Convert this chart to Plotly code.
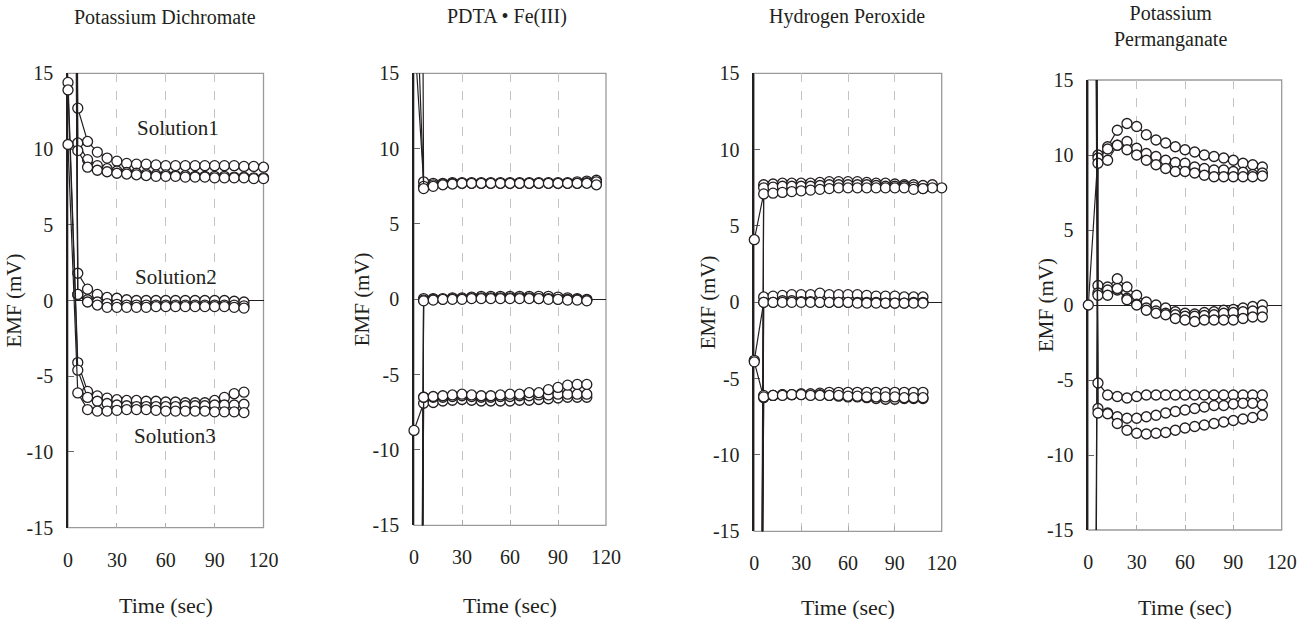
import plotly.graph_objects as go

# sampling times (sec)
TIME = [0, 6, 12, 18, 24, 30, 36, 42, 48, 54, 60, 66, 72, 78, 84, 90, 96, 102, 108, 114, 120]

titles = ["Potassium Dichromate", "PDTA • Fe(III)", "Hydrogen Peroxide", "Potassium<br>Permanganate"]
solution_labels = ["Solution1", "Solution2", "Solution3"]

# EMF readings (mV); first value is the t=0 reading (some are far off scale)
dichromate = [
    [100, 12.7, 10.5, 9.8, 9.4, 9.2, 9.05, 9.0, 9.0, 8.95, 8.9, 8.9, 8.9, 8.9, 8.9, 8.9, 8.9, 8.9, 8.85, 8.85, 8.8],
    [120, 10.4, 9.3, 8.9, 8.7, 8.55, 8.45, 8.4, 8.35, 8.3, 8.3, 8.25, 8.25, 8.2, 8.2, 8.2, 8.2, 8.15, 8.15, 8.1, 8.1],
    [90, 9.9, 8.8, 8.6, 8.5, 8.4, 8.35, 8.3, 8.25, 8.2, 8.2, 8.2, 8.15, 8.15, 8.15, 8.1, 8.1, 8.1, 8.1, 8.05, 8.05],
    [110, 1.8, 0.75, 0.4, 0.2, 0.15, 0.05, 0.0, 0.0, 0.0, 0.0, 0.0, 0.0, 0.0, 0.0, 0.0, 0.0, -0.05, -0.1],
    [95, 0.4, 0.05, -0.1, -0.2, -0.25, -0.3, -0.3, -0.3, -0.3, -0.3, -0.3, -0.3, -0.3, -0.3, -0.3, -0.3, -0.3, -0.35],
    [130, 0.4, -0.1, -0.3, -0.45, -0.45, -0.45, -0.45, -0.45, -0.4, -0.4, -0.4, -0.4, -0.4, -0.4, -0.4, -0.4, -0.45, -0.5],
    [14.4, -4.1, -6.0, -6.3, -6.45, -6.55, -6.6, -6.6, -6.65, -6.65, -6.7, -6.7, -6.75, -6.75, -6.75, -6.6, -6.4, -6.15, -6.05],
    [13.9, -4.6, -6.4, -6.65, -6.8, -6.9, -6.95, -7.0, -7.0, -7.0, -7.0, -7.0, -6.95, -6.95, -6.95, -6.9, -6.9, -6.9, -6.85],
    [10.3, -6.1, -7.2, -7.3, -7.3, -7.25, -7.2, -7.2, -7.2, -7.25, -7.3, -7.3, -7.3, -7.3, -7.3, -7.35, -7.35, -7.35, -7.4],
]

pdta = [
    [18, 7.8, 7.7, 7.7, 7.75, 7.75, 7.75, 7.75, 7.75, 7.75, 7.75, 7.75, 7.75, 7.75, 7.75, 7.75, 7.75, 7.8, 7.85, 7.9],
    [25, 7.5, 7.6, 7.65, 7.7, 7.7, 7.7, 7.7, 7.7, 7.7, 7.7, 7.7, 7.7, 7.7, 7.7, 7.7, 7.7, 7.7, 7.75, 7.8],
    [150, 7.35, 7.5, 7.6, 7.65, 7.7, 7.7, 7.7, 7.7, 7.7, 7.7, 7.7, 7.7, 7.7, 7.7, 7.7, 7.7, 7.7, 7.7, 7.6],
    [-110, 0.05, 0.05, 0.05, 0.1, 0.1, 0.15, 0.2, 0.2, 0.2, 0.2, 0.2, 0.2, 0.2, 0.2, 0.15, 0.1, 0.05, 0.0],
    [-130, -0.05, 0.0, 0.0, 0.05, 0.05, 0.1, 0.1, 0.1, 0.1, 0.1, 0.1, 0.1, 0.05, 0.05, 0.0, 0.0, 0.0, -0.05],
    [-150, -0.1, -0.05, 0.0, 0.0, 0.0, 0.05, 0.05, 0.05, 0.05, 0.05, 0.05, 0.05, 0.05, 0.0, 0.0, -0.05, -0.05, -0.1],
    [-8.7, -6.9, -6.85, -6.75, -6.7, -6.65, -6.7, -6.75, -6.75, -6.75, -6.75, -6.7, -6.7, -6.65, -6.6, -6.55, -6.5, -6.5, -6.5],
    [-120, -6.5, -6.5, -6.5, -6.45, -6.4, -6.45, -6.5, -6.5, -6.45, -6.45, -6.4, -6.4, -6.35, -6.35, -6.3, -6.3, -6.3, -6.3],
    [-140, -6.5, -6.45, -6.4, -6.35, -6.3, -6.35, -6.4, -6.4, -6.35, -6.3, -6.3, -6.2, -6.2, -6.0, -5.85, -5.7, -5.65, -5.65],
]

peroxide = [
    [-150, 7.7, 7.75, 7.8, 7.8, 7.8, 7.8, 7.85, 7.9, 7.9, 7.9, 7.9, 7.85, 7.8, 7.8, 7.75, 7.7, 7.7, 7.65, 7.7, 7.5],
    [-120, 7.5, 7.55, 7.6, 7.6, 7.6, 7.6, 7.65, 7.7, 7.7, 7.7, 7.7, 7.7, 7.65, 7.6, 7.6, 7.6, 7.55, 7.45, 7.5],
    [4.1, 7.1, 7.15, 7.2, 7.25, 7.3, 7.35, 7.4, 7.45, 7.5, 7.5, 7.5, 7.5, 7.5, 7.5, 7.5, 7.5, 7.4, 7.45],
    [-100, 0.35, 0.4, 0.45, 0.5, 0.5, 0.5, 0.6, 0.5, 0.5, 0.5, 0.5, 0.45, 0.4, 0.4, 0.4, 0.35, 0.35, 0.35],
    [-3.8, 0.0, 0.0, 0.1, 0.1, 0.05, 0.05, 0.0, 0.0, 0.0, 0.0, 0.0, 0.0, 0.0, -0.05, -0.05, -0.05, 0.0, 0.0],
    [-130, 0.0, 0.0, 0.0, 0.0, 0.0, 0.0, 0.0, 0.0, 0.0, 0.0, -0.05, -0.05, -0.05, -0.05, -0.05, -0.05, -0.05, -0.05],
    [-3.9, -6.25, -6.1, -6.05, -6.05, -6.0, -6.0, -5.95, -5.9, -5.9, -5.9, -5.9, -5.9, -5.9, -5.9, -5.9, -5.9, -5.9, -5.9],
    [-90, -6.1, -6.1, -6.05, -6.05, -6.0, -6.0, -6.05, -6.1, -6.15, -6.2, -6.2, -6.25, -6.3, -6.35, -6.35, -6.3, -6.3, -6.3],
    [-110, -6.2, -6.1, -6.1, -6.05, -6.05, -6.1, -6.1, -6.1, -6.1, -6.15, -6.15, -6.2, -6.2, -6.2, -6.2, -6.25, -6.25, -6.25],
]

permanganate = [
    [0.0, 10.0, 10.55, 11.65, 12.1, 11.9, 11.35, 11.0, 10.8, 10.55, 10.35, 10.2, 10.0, 9.9, 9.8, 9.65, 9.45, 9.35, 9.2],
    [-120, 9.8, 10.4, 10.65, 10.9, 10.45, 10.1, 9.9, 9.65, 9.5, 9.45, 9.2, 9.1, 9.0, 9.0, 8.9, 8.85, 8.7, 8.8],
    [-140, 9.45, 9.65, 10.65, 10.35, 10.0, 9.65, 9.35, 9.1, 8.9, 8.9, 8.8, 8.65, 8.55, 8.55, 8.55, 8.55, 8.55, 8.6],
    [110, 1.3, 1.2, 1.75, 1.2, 0.65, 0.2, 0.0, -0.2, -0.45, -0.55, -0.6, -0.5, -0.45, -0.35, -0.3, -0.2, -0.1, 0.0],
    [130, 0.8, 1.0, 1.0, 0.45, 0.05, -0.2, -0.4, -0.55, -0.65, -0.75, -0.75, -0.7, -0.65, -0.55, -0.5, -0.45, -0.4, -0.4],
    [120, 0.65, 0.65, 1.1, 0.35, 0.0, -0.35, -0.55, -0.65, -0.9, -1.0, -1.1, -1.0, -1.0, -1.0, -1.0, -0.9, -0.8, -0.8],
    [100, -5.2, -6.0, -6.1, -6.2, -6.1, -6.0, -6.0, -6.0, -6.0, -6.0, -6.0, -6.0, -6.0, -6.0, -6.0, -6.0, -6.0, -6.0],
    [140, -6.9, -7.2, -7.45, -7.55, -7.55, -7.45, -7.35, -7.2, -7.1, -7.0, -6.9, -6.8, -6.7, -6.7, -6.6, -6.55, -6.55, -6.65],
    [150, -7.2, -7.25, -7.9, -8.35, -8.55, -8.6, -8.55, -8.5, -8.35, -8.2, -8.1, -8.0, -7.9, -7.8, -7.7, -7.6, -7.5, -7.35],
]

y_ticks = [-15, -10, -5, 0, 5, 10, 15]
y_tick_text = ["-15", "-10", "-5", "0", "5", "10", "15"]
x_ticks = [0, 30, 60, 90, 120]

W, H = 1305, 619
FONT = "Liberation Serif"
INK = "#231f20"

# plot boxes in pixels: left, right, top, bottom
boxes = [(68, 263.5, 73.3, 527.7), (414, 606, 73.3, 525.3),
         (754.3, 941.7, 73.3, 531.3), (1088.3, 1281.7, 80, 530)]
title_pos = [(165, 17), (507, 17), (847, 17), (1170, 27)]
ytitle_x = [13, 362, 708, 1046]
xtitle_pos = [(166, 605), (510, 605), (848, 607), (1185, 607)]
solution_pos = [(178, 128), (176, 277), (175, 436)]

fig = go.Figure()
all_data = [dichromate, pdta, peroxide, permanganate]

for i, data in enumerate(all_data):
    n = i + 1
    xa = "x" if n == 1 else f"x{n}"
    ya = "y" if n == 1 else f"y{n}"
    for vals in data:
        fig.add_trace(go.Scatter(
            x=TIME[:len(vals)], y=vals, xaxis=xa, yaxis=ya,
            mode="lines+markers", cliponaxis=False,
            line=dict(color=INK, width=1.2),
            marker=dict(symbol="circle", size=10, color="white",
                        line=dict(color=INK, width=1.3)),
            showlegend=False, hoverinfo="skip"))

    l, r, t, b = boxes[i]
    xkey = "xaxis" if n == 1 else f"xaxis{n}"
    ykey = "yaxis" if n == 1 else f"yaxis{n}"
    fig.update_layout(**{
        xkey: dict(domain=[l / W, r / W], anchor=ya, range=[0, 120], automargin=False,
                   tickvals=x_ticks, showgrid=True, gridcolor="#c4c4c4",
                   griddash="dash", gridwidth=1, zeroline=False, showline=False,
                   ticks="inside", ticklen=5, tickcolor="#aaaaaa",
                   ticklabelstandoff=18, fixedrange=True,
                   tickfont=dict(family=FONT, size=20, color=INK)),
        ykey: dict(domain=[1 - b / H, 1 - t / H], anchor=xa, range=[-15, 15], automargin=False,
                   tickvals=y_ticks, ticktext=y_tick_text, showgrid=False,
                   zeroline=True, zerolinecolor=INK, zerolinewidth=1.2,
                   showline=True, linecolor=INK, linewidth=1.5,
                   ticks="inside", ticklen=6, tickcolor="#666666",
                   ticklabelstandoff=9, layer="below traces", fixedrange=True,
                   tickfont=dict(family=FONT, size=20, color=INK)),
    })
    # grey frame around the plot area
    fig.add_shape(type="rect", xref=f"{xa} domain", yref=f"{ya} domain",
                  x0=0, x1=1, y0=0, y1=1, layer="below",
                  line=dict(color="#9a9a9a", width=1.3))

    tx, ty = title_pos[i]
    fig.add_annotation(text=titles[i], x=tx / W, y=1 - ty / H, xref="paper", yref="paper",
                       showarrow=False, xanchor="center", yanchor="middle",
                       font=dict(family=FONT, size=20, color=INK))
    fig.add_annotation(text="EMF (mV)", x=ytitle_x[i] / W, y=1 - ((t + b) / 2) / H,
                       xref="paper", yref="paper", textangle=-90,
                       showarrow=False, xanchor="center", yanchor="middle",
                       font=dict(family=FONT, size=21, color=INK))
    px_, py_ = xtitle_pos[i]
    fig.add_annotation(text="Time (sec)", x=px_ / W, y=1 - py_ / H, xref="paper", yref="paper",
                       showarrow=False, xanchor="center", yanchor="middle",
                       font=dict(family=FONT, size=22, color=INK))

# group labels in the first panel
for label, (sx, sy) in zip(solution_labels, solution_pos):
    fig.add_annotation(text=label, x=sx / W, y=1 - sy / H, xref="paper", yref="paper",
                       showarrow=False, xanchor="center", yanchor="middle",
                       font=dict(family=FONT, size=21, color=INK))

fig.update_layout(width=W, height=H, margin=dict(l=0, r=0, t=0, b=0),
                  paper_bgcolor="white", plot_bgcolor="white", showlegend=False)

# page body margin would shift the figure by 8px
fig.write_html("out.html", config={"displayModeBar": False},
               post_script="document.body.style.margin='0';document.body.style.overflow='hidden';")
